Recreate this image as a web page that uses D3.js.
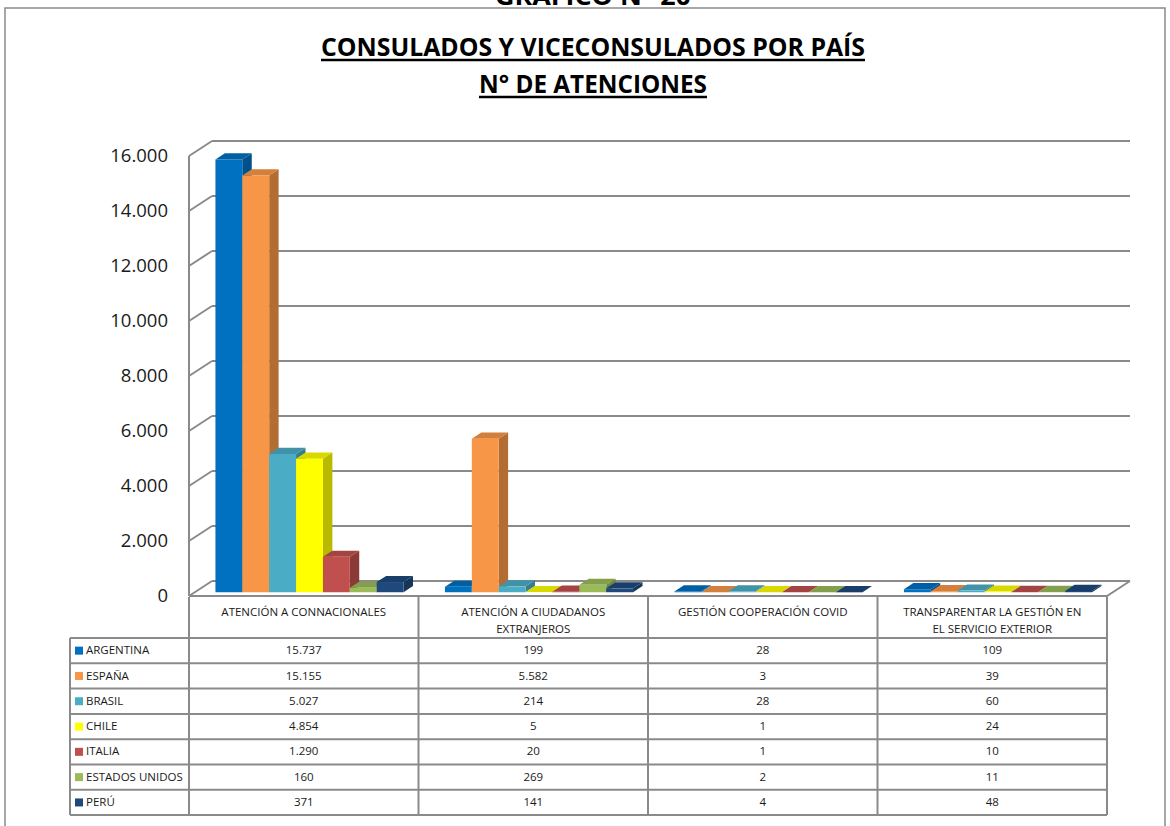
<!DOCTYPE html>
<html>
<head>
<meta charset="utf-8">
<script src="https://cdn.jsdelivr.net/npm/d3@7"></script>
<style>
  body { margin: 0; background: #fff; }
  text { font-family: "Open Sans", "Noto Sans", sans-serif; }
</style>
</head>
<body>
<div id="chart"></div>
<script>
// data
const categoryLabels = [
  ["ATENCIÓN A CONNACIONALES"],
  ["ATENCIÓN A CIUDADANOS", "EXTRANJEROS"],
  ["GESTIÓN COOPERACIÓN COVID"],
  ["TRANSPARENTAR LA GESTIÓN EN", "EL SERVICIO EXTERIOR"]
];
const countries = ["ARGENTINA", "ESPAÑA", "BRASIL", "CHILE", "ITALIA", "ESTADOS UNIDOS", "PERÚ"];
const colors = ["#0070C0", "#F79646", "#4BACC6", "#FFFF00", "#C0504D", "#9BBB59", "#1F497D"];
const argentina = [15737, 199, 28, 109];
const espana = [15155, 5582, 3, 39];
const brasil = [5027, 214, 28, 60];
const chile = [4854, 5, 1, 24];
const italia = [1290, 20, 1, 10];
const eeuu = [160, 269, 2, 11];
const peru = [371, 141, 4, 48];
const series = [argentina, espana, brasil, chile, italia, eeuu, peru];
const yTicks = [0, 2000, 4000, 6000, 8000, 10000, 12000, 14000, 16000];

// layout
const W = 1170, H = 826;
const DX = 23, DY = 15;          // depth of the 3d box
const x0 = 189, x1 = 1107;      // floor front edge
const d0 = 0.25, d1 = 0.66;     // bar depth (fraction of the box)
const gridCol = "#8a8a8a";

const fmt = d3.formatLocale({ decimal: ",", thousands: ".", grouping: [3], currency: ["", ""] }).format(",d");

const svg = d3.select("#chart").append("svg").attr("width", W).attr("height", H);

const y = d3.scaleLinear().domain([0, 16000]).range([596, 156]);
const catIdx = d3.range(categoryLabels.length);
const xCat = d3.scaleBand().domain(catIdx).range([x0, x1]);
const xSer = d3.scaleBand().domain(countries).range([0, xCat.bandwidth()]).paddingOuter(0.77);

// outer frame
svg.append("path")
  .attr("d", `M5,${H} V8 H1165 V${H}`)
  .attr("fill", "none").attr("stroke", gridCol).attr("stroke-width", 1.5);

// cut-off heading above the frame
svg.append("text").text("GRÁFICO N° 20")
  .attr("x", 593).attr("y", 5).attr("text-anchor", "middle")
  .attr("textLength", 196).attr("lengthAdjust", "spacingAndGlyphs")
  .style("font-size", "25px").style("font-weight", "bold").style("fill", "#000");

// title
const titles = [
  { t: "CONSULADOS Y VICECONSULADOS POR PAÍS", y: 56, w: 544 },
  { t: "N° DE ATENCIONES", y: 93, w: 228 }
];
titles.forEach(d => {
  svg.append("text").text(d.t)
    .attr("x", 593).attr("y", d.y).attr("text-anchor", "middle")
    .attr("textLength", d.w).attr("lengthAdjust", "spacingAndGlyphs")
    .style("font-size", "25px").style("font-weight", "bold").style("fill", "#000");
  svg.append("line")
    .attr("x1", 593 - d.w / 2).attr("x2", 593 + d.w / 2)
    .attr("y1", d.y + 4).attr("y2", d.y + 4)
    .attr("stroke", "#000").attr("stroke-width", 2.5);
});

// gridlines on back wall + left side wall
const grid = svg.append("g").attr("stroke", gridCol).attr("stroke-width", 2).attr("fill", "none");
yTicks.forEach(t => {
  grid.append("line")
    .attr("x1", x0 + DX).attr("x2", x1 + DX)
    .attr("y1", y(t) - DY).attr("y2", y(t) - DY);
  grid.append("line")
    .attr("x1", x0).attr("x2", x0 + DX)
    .attr("y1", y(t)).attr("y2", y(t) - DY);
});
grid.append("line").attr("x1", x0).attr("x2", x0).attr("y1", y(0)).attr("y2", y(16000));
grid.append("path").attr("d", `M${x0},${y(0)} H${x1} L${x1 + DX},${y(0) - DY}`);

// tick labels
svg.append("g").selectAll("text").data(yTicks).join("text")
  .attr("x", 168).attr("y", t => y(t) + 1)
  .attr("text-anchor", "end").attr("dominant-baseline", "middle")
  .style("font-size", "18.5px").style("fill", "#1a1a1a")
  .text(t => fmt(t));

// 3d bars
const bars = svg.append("g");
catIdx.forEach(ci => {
  countries.forEach((c, si) => {
    const v = series[si][ci];
    const col = d3.color(colors[si]);
    const xl = xCat(ci) + xSer(c), xr = xl + xSer.bandwidth();
    const yt = y(v), yb = y(0);
    const px = d => d * DX, py = d => d * DY;
    const g = bars.append("g");
    // right side
    g.append("path")
      .attr("d", `M${xr + px(d0)},${yt - py(d0)} L${xr + px(d1)},${yt - py(d1)} L${xr + px(d1)},${yb - py(d1)} L${xr + px(d0)},${yb - py(d0)} Z`)
      .attr("fill", col.darker(0.9));
    // top
    g.append("path")
      .attr("d", `M${xl + px(d0)},${yt - py(d0)} L${xr + px(d0)},${yt - py(d0)} L${xr + px(d1)},${yt - py(d1)} L${xl + px(d1)},${yt - py(d1)} Z`)
      .attr("fill", col.darker(0.45));
    // front
    g.append("rect")
      .attr("x", xl + px(d0)).attr("y", yt - py(d0))
      .attr("width", xSer.bandwidth()).attr("height", Math.max(0, yb - yt))
      .attr("fill", col);
  });
});

// data table
const rowTop = 638, rowH = 25.3, legX = 70;
const tbl = svg.append("g");
const lines = tbl.append("g").attr("stroke", gridCol).attr("stroke-width", 2);
const xs = catIdx.map(i => xCat(i)).concat([x1]);
xs.forEach(xv => lines.append("line").attr("x1", xv).attr("x2", xv).attr("y1", 597).attr("y2", rowTop + rowH * countries.length));
lines.append("line").attr("x1", legX).attr("x2", legX).attr("y1", rowTop).attr("y2", rowTop + rowH * countries.length);
d3.range(countries.length + 1).forEach(i => {
  lines.append("line").attr("x1", legX).attr("x2", x1)
    .attr("y1", rowTop + i * rowH).attr("y2", rowTop + i * rowH);
});

// header labels
catIdx.forEach(ci => {
  categoryLabels[ci].forEach((ln, k) => {
    tbl.append("text").text(ln)
      .attr("x", xCat(ci) + xCat.bandwidth() / 2).attr("y", 613 + k * 17)
      .attr("text-anchor", "middle").attr("dominant-baseline", "middle")
      .style("font-size", "11.5px").style("fill", "#1a1a1a");
  });
});

// legend cells and values
countries.forEach((c, si) => {
  const cy = rowTop + si * rowH + rowH / 2;
  tbl.append("rect").attr("x", 75).attr("y", cy - 4).attr("width", 8).attr("height", 8).attr("fill", colors[si]);
  tbl.append("text").text(c)
    .attr("x", 86).attr("y", cy + 0.5).attr("dominant-baseline", "middle")
    .style("font-size", "11.5px").style("fill", "#1a1a1a");
  catIdx.forEach(ci => {
    tbl.append("text").text(fmt(series[si][ci]))
      .attr("x", xCat(ci) + xCat.bandwidth() / 2).attr("y", cy + 0.5)
      .attr("text-anchor", "middle").attr("dominant-baseline", "middle")
      .style("font-size", "11.5px").style("fill", "#1a1a1a");
  });
});
</script>
</body>
</html>
